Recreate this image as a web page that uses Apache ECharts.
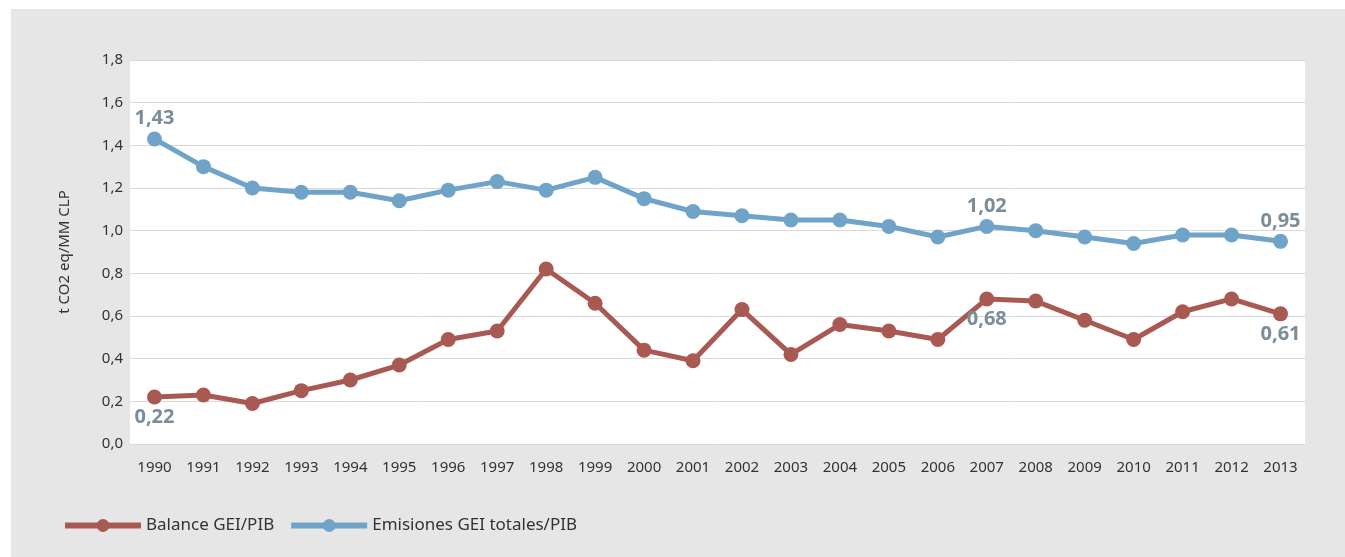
<!DOCTYPE html>
<html>
<head>
<meta charset="utf-8">
<script src="https://cdn.jsdelivr.net/npm/echarts@6/dist/echarts.min.js"></script>
<style>
  html, body { margin: 0; padding: 0; background: #fff; }
  #chart { position: absolute; left: 11px; top: 9px; width: 1334px; height: 548px; background: #e6e6e6; }
</style>
</head>
<body>
<div id="chart"></div>
<script>
var years = ['1990', '1991', '1992', '1993', '1994', '1995', '1996', '1997', '1998', '1999', '2000', '2001',
    '2002', '2003', '2004', '2005', '2006', '2007', '2008', '2009', '2010', '2011', '2012', '2013'];
var balance = [0.22, 0.23, 0.19, 0.25, 0.30, 0.37, 0.49, 0.53, 0.82, 0.66, 0.44, 0.39,
    0.63, 0.42, 0.56, 0.53, 0.49, 0.68, 0.67, 0.58, 0.49, 0.62, 0.68, 0.61];
var emisiones = [1.43, 1.30, 1.20, 1.18, 1.18, 1.14, 1.19, 1.23, 1.19, 1.25, 1.15, 1.09,
    1.07, 1.05, 1.05, 1.02, 0.97, 1.02, 1.00, 0.97, 0.94, 0.98, 0.98, 0.95];
var labelYears = ['1990', '2007', '2013'];

function comma(v, d) {
    return v.toFixed(d).replace('.', ',');
}

// solo algunos puntos llevan etiqueta
function withLabels(values, pos) {
    return values.map(function (v, i) {
        return {
            value: v,
            label: {
                show: labelYears.indexOf(years[i]) >= 0,
                position: pos,
                distance: 3,
                formatter: function (p) { return comma(p.value, 2); },
                color: '#7b8d9a',
                fontWeight: 'bold',
                fontSize: 20,
                fontFamily: 'Noto Sans'
            }
        };
    });
}

var myChart = echarts.init(document.getElementById('chart'));
myChart.setOption({
    animation: false,
    textStyle: {fontFamily: 'Noto Sans'},
    color: ['#a85a52', '#70a3c8'],
    grid: {
        left: 119, top: 51, right: 40, bottom: 113,
        show: true, backgroundColor: '#fff', borderWidth: 0
    },
    legend: {
        left: 46,
        top: 503,
        itemWidth: 76,
        itemHeight: 16,
        itemGap: 14,
        lineStyle: {width: 6},
        textStyle: {color: '#333', fontSize: 17},
        data: ['Balance GEI/PIB', 'Emisiones GEI totales/PIB']
    },
    xAxis: {
        type: 'category',
        data: years,
        boundaryGap: true,
        axisLine: {show: false},
        axisTick: {show: false},
        axisLabel: {color: '#333', fontSize: 15, margin: 16}
    },
    yAxis: {
        type: 'value',
        min: 0,
        max: 1.8,
        interval: 0.2,
        name: 't CO2 eq/MM CLP',
        nameLocation: 'middle',
        nameGap: 58,
        nameTextStyle: {color: '#333', fontSize: 15},
        axisLine: {show: false},
        axisTick: {show: false},
        axisLabel: {
            color: '#333', fontSize: 15, margin: 7,
            formatter: function (v) { return comma(v, 1); }
        },
        splitLine: {lineStyle: {color: '#d9d9d9', width: 1}}
    },
    series: [
        {
            name: 'Balance GEI/PIB',
            type: 'line',
            data: withLabels(balance, 'bottom'),
            symbol: 'circle',
            symbolSize: 15,
            lineStyle: {width: 5},
            z: 3
        },
        {
            name: 'Emisiones GEI totales/PIB',
            type: 'line',
            data: withLabels(emisiones, 'top'),
            symbol: 'circle',
            symbolSize: 15,
            lineStyle: {width: 5},
            z: 2
        }
    ]
});
</script>
</body>
</html>
